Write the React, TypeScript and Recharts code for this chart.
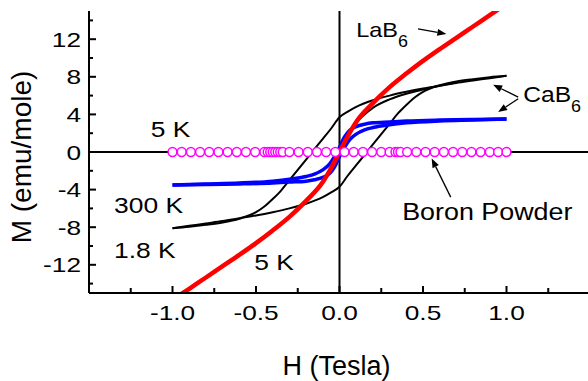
import { LineChart, Line, XAxis, YAxis, ReferenceLine, ReferenceDot } from "recharts"

const FONT = "'Liberation Sans', Arial, Helvetica, sans-serif"

// LaB6, 5 K
const labH = [-1.0, -0.9, -0.8, -0.7, -0.6, -0.5, -0.4, -0.3, -0.2, -0.1, -0.05, 0, 0.05, 0.1, 0.2, 0.3, 0.4, 0.5, 0.6, 0.7, 0.8, 0.9, 1.0]
const labM = [-15.75, -14.55, -13.35, -12.15, -10.95, -9.7, -8.35, -6.9, -5.2, -3.2, -1.7, 0, 1.7, 3.2, 5.2, 6.9, 8.35, 9.7, 10.95, 12.15, 13.35, 14.55, 15.75]

// CaB6, 1.8 K loop
const cabUpH = [-1.0, -0.9, -0.8, -0.7, -0.6, -0.5, -0.4, -0.3, -0.2, -0.1, -0.05, 0, 0.05, 0.1, 0.15, 0.2, 0.25, 0.3, 0.35, 0.4, 0.45, 0.5, 0.6, 0.7, 0.8, 0.9, 1.0]
const cabUpM = [-8.1, -7.85, -7.6, -7.35, -7.05, -6.75, -6.4, -6.0, -5.5, -4.8, -4.3, -3.7, -2.5, -1.4, -0.3, 0.8, 1.9, 3.0, 4.1, 5.0, 5.8, 6.4, 7.1, 7.5, 7.75, 7.95, 8.1]
const cabDownH = [-1.0, -0.9, -0.8, -0.7, -0.6, -0.5, -0.45, -0.4, -0.35, -0.3, -0.25, -0.2, -0.15, -0.1, -0.05, 0, 0.05, 0.1, 0.2, 0.3, 0.4, 0.5, 0.6, 0.7, 0.8, 0.9, 1.0]
const cabDownM = [-8.1, -7.95, -7.75, -7.5, -7.1, -6.4, -5.8, -5.0, -4.1, -3.0, -1.9, -0.8, 0.3, 1.4, 2.5, 3.7, 4.3, 4.8, 5.5, 6.0, 6.4, 6.75, 7.05, 7.35, 7.6, 7.85, 8.1]
const cabVirginH = [0, 0.05, 0.1, 0.15, 0.2, 0.3, 0.4, 0.5, 0.6, 0.7]
const cabVirginM = [0, 1.7, 3.1, 4.0, 4.7, 5.6, 6.2, 6.65, 7.05, 7.4]

// CaB6, 300 K loop
const blueH = [-1.0, -0.8, -0.6, -0.4, -0.3, -0.2, -0.15, -0.1, -0.06, -0.03, 0, 0.03, 0.06, 0.1, 0.15, 0.2, 0.3, 0.4, 0.6, 0.8, 1.0]
const blueUpM = [-3.5, -3.45, -3.4, -3.3, -3.2, -3.1, -2.95, -2.7, -2.3, -1.6, -0.5, 0.5, 1.3, 1.9, 2.35, 2.6, 2.9, 3.1, 3.3, 3.4, 3.5]
const blueDownM = [-3.5, -3.4, -3.3, -3.1, -2.9, -2.6, -2.35, -1.9, -1.3, -0.5, 0.5, 1.6, 2.3, 2.7, 2.95, 3.1, 3.2, 3.3, 3.4, 3.45, 3.5]

// Boron powder, 5 K
const boronH = [
  -1.0, -0.945, -0.89, -0.835, -0.78, -0.725, -0.67, -0.615, -0.56, -0.505, -0.45,
  -0.43, -0.415, -0.4, -0.385, -0.37, -0.355, -0.34,
  -0.3, -0.245, -0.19, -0.135, -0.08, -0.025, 0.03, 0.085, 0.14, 0.195, 0.25, 0.3,
  0.335, 0.35, 0.365,
  0.405, 0.46, 0.515, 0.57, 0.625, 0.68, 0.735, 0.79, 0.845, 0.9, 0.95, 1.0,
]
const boronM = [
  0, 0, 0, 0, 0, 0, 0, 0, 0, 0, 0,
  0, 0, 0, 0, 0, 0, 0,
  0, 0, 0, 0, 0, 0, 0, 0, 0, 0, 0, 0,
  0, 0, 0,
  0, 0, 0, 0, 0, 0, 0, 0, 0, 0, 0, 0,
]

const xTicks = [-1.5, -1.25, -1.0, -0.75, -0.5, -0.25, 0, 0.25, 0.5, 0.75, 1.0, 1.25, 1.5]
const yTicks = [-14, -12, -10, -8, -6, -4, -2, 0, 2, 4, 6, 8, 10, 12, 14]

const pts = (hs: number[], ms: number[]) => hs.map((h, i) => ({ h, m: ms[i] }))

const lab = pts(labH, labM)
const cabUp = pts(cabUpH, cabUpM)
const cabDown = pts(cabDownH, cabDownM)
const cabVirgin = pts(cabVirginH, cabVirginM)
const blueUp = pts(blueH, blueUpM)
const blueDown = pts(blueH, blueDownM)
const boron = pts(boronH, boronM)

function Txt({ x, y, size, sx = 1, anchor = "start", children }: any) {
  return (
    <text
      transform={`translate(${x},${y}) scale(${sx},1)`}
      fontSize={size}
      fontFamily={FONT}
      textAnchor={anchor}
      fill="#000"
    >
      {children}
    </text>
  )
}

const LeftTick = (props: any) => {
  const { x, y, payload } = props
  const v = payload.value
  const major = v % 4 === 0
  return (
    <g>
      <line x1={x} y1={y} x2={x + (major ? 7 : 4)} y2={y} stroke="#000" strokeWidth={2} />
      {major && <Txt x={x - 8} y={y + 7.5} size={21} sx={1.25} anchor="end">{String(v)}</Txt>}
    </g>
  )
}

const BottomTick = (props: any) => {
  const { x, y, payload } = props
  const v = payload.value
  if (Math.abs(v) >= 1.5) return <g />
  const major = Math.abs(v * 2 - Math.round(v * 2)) < 1e-9
  return (
    <g>
      <line x1={x} y1={y} x2={x} y2={y - (major ? 7 : 5)} stroke="#000" strokeWidth={2} />
      {major && <Txt x={x} y={y + 27} size={21} sx={1.25} anchor="middle">{v.toFixed(1)}</Txt>}
    </g>
  )
}

const TopTick = (props: any) => {
  const { x, y, payload } = props
  if (Math.abs(payload.value) >= 1.5) return <g />
  return <line x1={x} y1={y} x2={x} y2={y + 4} stroke="#000" strokeWidth={2} />
}

const Arrow = (p: any) => {
  const { x1, y1, x2, y2 } = p
  const a = Math.atan2(y2 - y1, x2 - x1)
  const len = 9
  const w = 3.5
  const bx = x2 - len * Math.cos(a)
  const by = y2 - len * Math.sin(a)
  const head = `${x2},${y2} ${bx - w * Math.sin(a)},${by + w * Math.cos(a)} ${bx + w * Math.sin(a)},${by - w * Math.cos(a)}`
  return (
    <g>
      <line x1={x1} y1={y1} x2={bx} y2={by} stroke="#000" strokeWidth={1.3} />
      <polygon points={head} fill="#000" />
    </g>
  )
}

const note = (text: any, size: number, sx: number) => (p: any) => (
  <Txt x={p.cx} y={p.cy} size={size} sx={sx}>{text}</Txt>
)

const sub = (main: string) => (
  <>
    {main}
    <tspan fontSize={16} dy={10}>6</tspan>
  </>
)

export default function App() {
  return (
    <div style={{ position: "absolute", left: 0, top: 0, width: 588, height: 381, overflow: "hidden", background: "#fff" }}>
      <LineChart width={600} height={381} margin={{ top: 11, right: 10, left: 0, bottom: 0 }}>
        <XAxis
          dataKey="h"
          type="number"
          domain={[-1.5, 1.5]}
          ticks={xTicks}
          interval={0}
          allowDataOverflow
          height={88}
          tickSize={0}
          tickMargin={0}
          tickLine={false}
          axisLine={{ stroke: "#000", strokeWidth: 2 }}
          tick={<BottomTick />}
          label={(p: any) => {
            const vb = p.viewBox
            return <Txt x={vb.x + vb.width / 2 - 3} y={vb.y + 82} size={27} anchor="middle">H (Tesla)</Txt>
          }}
        />
        <XAxis
          xAxisId="top"
          orientation="top"
          dataKey="h"
          type="number"
          domain={[-1.5, 1.5]}
          ticks={xTicks}
          interval={0}
          allowDataOverflow
          height={0}
          tickSize={0}
          tickMargin={0}
          tickLine={false}
          axisLine={{ stroke: "#000", strokeWidth: 2 }}
          tick={<TopTick />}
        />
        <YAxis
          type="number"
          domain={[-15, 15]}
          ticks={yTicks}
          interval={0}
          allowDataOverflow
          width={89}
          tickSize={0}
          tickMargin={0}
          tickLine={false}
          axisLine={{ stroke: "#000", strokeWidth: 2 }}
          tick={<LeftTick />}
          label={(p: any) => {
            const vb = p.viewBox
            return (
              <text
                transform={`translate(${vb.x + 31},${vb.y + vb.height / 2 + 5}) rotate(-90)`}
                fontSize={28}
                fontFamily={FONT}
                textAnchor="middle"
                fill="#000"
              >
                M (emu/mole)
              </text>
            )
          }}
        />

        <ReferenceLine x={0} stroke="#000" strokeWidth={2} />
        <ReferenceLine y={0} stroke="#000" strokeWidth={2} />

        <Line data={boron} dataKey="m" stroke="none" isAnimationActive={false} activeDot={false}
          dot={{ r: 4.4, stroke: "#ff00ff", strokeWidth: 1.5, fill: "#fff" }} />

        <Line data={cabDown} dataKey="m" type="monotone" stroke="#000" strokeWidth={2} dot={false} isAnimationActive={false} />
        <Line data={cabUp} dataKey="m" type="monotone" stroke="#000" strokeWidth={2} dot={false} isAnimationActive={false} />
        <Line data={cabVirgin} dataKey="m" type="monotone" stroke="#000" strokeWidth={2} dot={false} isAnimationActive={false} />

        <Line data={blueDown} dataKey="m" type="monotone" stroke="#0000ff" strokeWidth={3.5} dot={false} isAnimationActive={false} />
        <Line data={blueUp} dataKey="m" type="monotone" stroke="#0000ff" strokeWidth={3.5} dot={false} isAnimationActive={false} />

        <Line data={lab} dataKey="m" type="monotone" stroke="#ff0000" strokeWidth={4.5} dot={false} isAnimationActive={false} />

        <ReferenceLine segment={[{ x: 0.47, y: 13.1 }, { x: 0.64, y: 12.55 }]} shape={<Arrow />} />
        <ReferenceLine segment={[{ x: 1.07, y: 5.84 }, { x: 0.92, y: 7.15 }]} shape={<Arrow />} />
        <ReferenceLine segment={[{ x: 1.07, y: 5.67 }, { x: 0.95, y: 4.25 }]} shape={<Arrow />} />
        <ReferenceLine segment={[{ x: 0.666, y: -4.8 }, { x: 0.552, y: -0.7 }]} shape={<Arrow />} />

        <ReferenceDot x={-1.13} y={1.6} r={0} shape={note("5 K", 22, 1.2)} />
        <ReferenceDot x={-1.35} y={-6.54} r={0} shape={note("300 K", 22, 1.2)} />
        <ReferenceDot x={-1.35} y={-11.3} r={0} shape={note("1.8 K", 22, 1.2)} />
        <ReferenceDot x={-0.51} y={-12.6} r={0} shape={note("5 K", 22, 1.2)} />
        <ReferenceDot x={0.1} y={12.2} r={0} shape={note(sub("LaB"), 21, 1.12)} />
        <ReferenceDot x={1.1} y={5.3} r={0} shape={note(sub("CaB"), 22, 1.12)} />
        <ReferenceDot x={0.375} y={-7.2} r={0} shape={note("Boron Powder", 24, 1.12)} />
      </LineChart>
    </div>
  )
}
